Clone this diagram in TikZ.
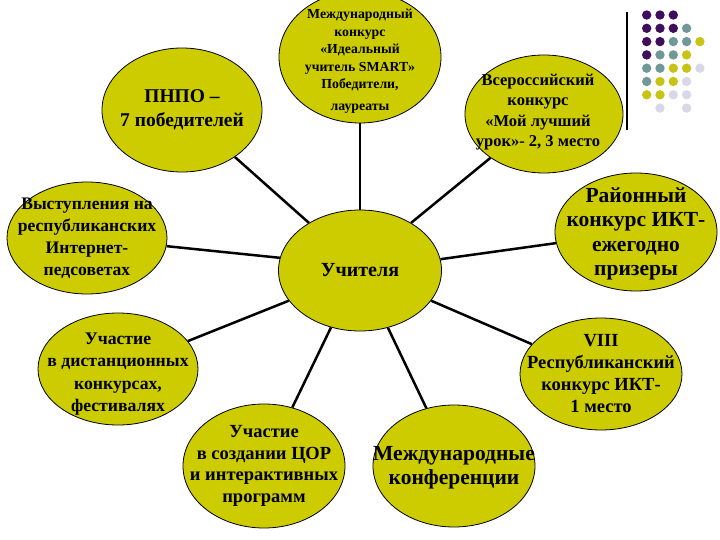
\documentclass[tikz,border=0pt]{standalone}
\usepackage{fontspec}
\setmainfont{Liberation Serif}
\usetikzlibrary{shapes.geometric}

\definecolor{olivefill}{RGB}{204,204,0}
\definecolor{dotP}{RGB}{62,14,92}
\definecolor{dotT}{RGB}{112,152,152}
\definecolor{dotY}{RGB}{200,196,22}
\definecolor{dotL}{RGB}{216,216,232}

\begin{document}
\begin{tikzpicture}[x=1pt, y=-1pt,
  bubble/.style={ellipse, draw=black, line width=0.8pt, fill=olivefill, inner sep=0pt},
  txt/.style 2 args={align=center, inner sep=0pt, font=\bfseries\fontsize{#1}{#2}\selectfont},
  spoke/.style={line width=2.5pt, black}]
\useasboundingbox (0, 0) rectangle (720, 540);

% decoration top right
\draw [line width=1.5pt] (627, 12) -- (627, 130);
\foreach \c/\r/\col in {0/0/dotP, 1/0/dotP, 2/0/dotP,
    0/1/dotP, 1/1/dotP, 2/1/dotP, 3/1/dotT,
    0/2/dotP, 1/2/dotP, 2/2/dotT, 3/2/dotT, 4/2/dotY,
    0/3/dotP, 1/3/dotT, 2/3/dotT, 3/3/dotY,
    0/4/dotT, 1/4/dotT, 2/4/dotY, 3/4/dotY, 4/4/dotL,
    0/5/dotT, 1/5/dotY, 2/5/dotY, 3/5/dotL,
    0/6/dotY, 1/6/dotY, 2/6/dotL, 3/6/dotL,
    1/7/dotL, 3/7/dotL}
  \fill [\col] (646.7 + 13.3*\c, 15 + 13.3*\r) circle (4.7);

\node [bubble, minimum width=163pt, minimum height=121pt,
  label={[txt={20}{24}]center:{Учителя}}] (uch) at (360, 270.5) {};

\node [bubble, minimum width=162pt, minimum height=132pt,
  label={[txt={13.8}{17.5}, yshift=-4pt]center:{Международный\\конкурс\\«Идеальный\\учитель SMART»\\Победители,\\[4pt]лауреаты}}] (smart) at (360, 57) {};
\node [bubble, minimum width=160pt, minimum height=124pt,
  label={[txt={19.5}{24}]center:{ПНПО –\\7 победителей}}] (pnpo) at (182, 110) {};
\node [bubble, minimum width=158pt, minimum height=118pt,
  label={[txt={16.5}{20.5}, xshift=-6pt, yshift=2pt]center:{Всероссийский\\конкурс\\«Мой лучший\\урок»- 2, 3 место}}] (mylesson) at (544, 114) {};
\node [bubble, minimum width=160pt, minimum height=112pt,
  label={[txt={17.6}{22}]center:{Выступления на\\республиканских\\Интернет-\\педсоветах}}] (pedsovet) at (87, 238) {};
\node [bubble, minimum width=162pt, minimum height=118pt,
  label={[txt={21.5}{24.5}, yshift=-2pt]center:{Районный\\конкурс ИКТ-\\ежегодно\\призеры}}] (rayon) at (636, 232) {};
\node [bubble, minimum width=160pt, minimum height=112pt,
  label={[txt={17.7}{22.5}, yshift=-5pt]center:{Участие\\в дистанционных\\конкурсах,\\фестивалях}}] (distant) at (118, 369) {};
\node [bubble, minimum width=162pt, minimum height=112pt,
  label={[txt={18.5}{22}]center:{VIII\\Республиканский\\конкурс ИКТ-\\1 место}}] (respikt) at (601, 374) {};
\node [bubble, minimum width=162pt, minimum height=124pt,
  label={[txt={18.5}{21.7}]center:{Участие\\в создании ЦОР\\и интерактивных\\программ}}] (cor) at (264, 466) {};
\node [bubble, minimum width=162pt, minimum height=122pt,
  label={[txt={21.5}{24}, yshift=-2pt]center:{Международные\\конференции}}] (konf) at (454, 466) {};

\draw [spoke] (uch.90) -- (smart);
\draw [spoke] (uch.137) -- (pnpo);
\draw [spoke] (uch.43) -- (mylesson);
\draw [spoke] (uch.171.4) -- (pedsovet);
\draw [spoke] (uch.8.6) -- (rayon);
\draw [spoke] (uch.203) -- (distant);
\draw [spoke] (uch.337) -- (respikt);
\draw [spoke] (uch.243.5) -- (cor);
\draw [spoke] (uch.296.5) -- (konf);
\end{tikzpicture}
\end{document}
